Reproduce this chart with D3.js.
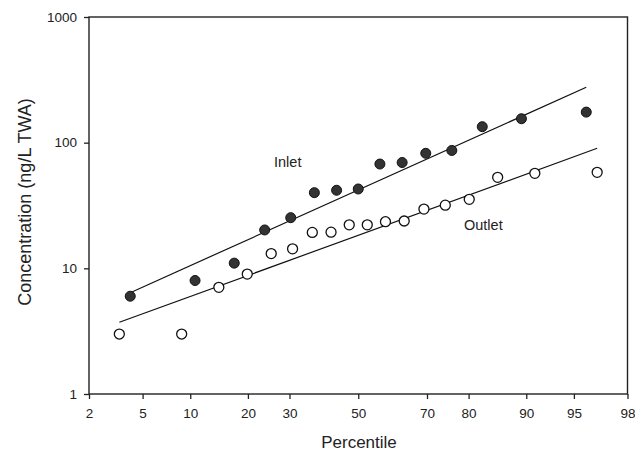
<!DOCTYPE html>
<html>
<head>
<meta charset="utf-8">
<script src="https://cdn.jsdelivr.net/npm/d3@7"></script>
<style>
  html, body { margin: 0; padding: 0; background: #fff; }
  svg { display: block; font-family: "Liberation Sans", Arial, sans-serif; }
  .tick text { fill: #222; }
</style>
</head>
<body>
<svg id="chart" width="635" height="456"></svg>
<script>
// Percentile ticks on the normal-probability axis and decade ticks on the log axis
const percentTicks = [2, 5, 10, 20, 30, 50, 70, 80, 90, 95, 98];
const concTicks = [1, 10, 100, 1000];

// Inlet samples: plotting percentile and concentration (ng/L TWA)
const inletPct  = [4.10, 10.66, 17.21, 23.77, 30.33, 36.89, 43.44, 50.00, 56.56, 63.11, 69.67, 76.23, 82.79, 89.34, 95.90];
const inletConc = [6.0, 8.0, 11.0, 20.2, 25.3, 40.0, 41.8, 42.8, 67.6, 69.5, 82.3, 86.7, 134, 155, 175];

// Outlet samples
const outletPct  = [3.42, 8.90, 14.38, 19.86, 25.34, 30.82, 36.30, 41.78, 47.26, 52.74, 58.22, 63.70, 69.18, 74.66, 80.14, 85.62, 91.10, 96.58];
const outletConc = [3.0, 3.0, 7.06, 9.0, 13.1, 14.3, 19.3, 19.4, 22.2, 22.2, 23.5, 23.8, 29.6, 31.8, 35.4, 53.0, 57.0, 58.1];

// Fitted log-normal lines (end points)
const inletFitPct  = [4.10, 95.90];
const inletFitConc = [6.4, 276];
const outletFitPct  = [3.42, 96.58];
const outletFitConc = [3.72, 90.2];

// Inverse standard normal CDF (Acklam's rational approximation)
function probit(p) {
  const a = [-3.969683028665376e+01, 2.209460984245205e+02, -2.759285104469687e+02, 1.383577518672690e+02, -3.066479806614716e+01, 2.506628277459239e+00];
  const b = [-5.447609879822406e+01, 1.615858368580409e+02, -1.556989798598866e+02, 6.680131188771972e+01, -1.328068155288572e+01];
  const c = [-7.784894002430293e-03, -3.223964580411365e-01, -2.400758277161838e+00, -2.549671010050320e+00, 4.374664141464968e+00, 2.938163982698783e+00];
  const d = [7.784695709041462e-03, 3.224671290700398e-01, 2.445134137142996e+00, 3.754408661907416e+00];
  const pl = 0.02425, ph = 1 - pl;
  let q, r;
  if (p < pl) {
    q = Math.sqrt(-2 * Math.log(p));
    return (((((c[0]*q+c[1])*q+c[2])*q+c[3])*q+c[4])*q+c[5]) / ((((d[0]*q+d[1])*q+d[2])*q+d[3])*q+1);
  } else if (p <= ph) {
    q = p - 0.5; r = q * q;
    return (((((a[0]*r+a[1])*r+a[2])*r+a[3])*r+a[4])*r+a[5])*q / (((((b[0]*r+b[1])*r+b[2])*r+b[3])*r+b[4])*r+1);
  } else {
    q = Math.sqrt(-2 * Math.log(1 - p));
    return -(((((c[0]*q+c[1])*q+c[2])*q+c[3])*q+c[4])*q+c[5]) / ((((d[0]*q+d[1])*q+d[2])*q+d[3])*q+1);
  }
}

const plotLeft = 89, plotRight = 627.5, plotTop = 17, plotBottom = 394;
const svg = d3.select("#chart");

// Probability scale: linear in the normal quantile of the percentile
const zScale = d3.scaleLinear()
  .domain([probit(0.02), probit(0.98)])
  .range([plotLeft, plotRight]);
const x = Object.assign(p => zScale(probit(p / 100)), {
  domain: () => [2, 98],
  range: () => zScale.range(),
  copy: () => x
});

const y = d3.scaleLog().domain([1, 1000]).range([plotBottom, plotTop]);

// Frame
svg.append("rect")
  .attr("x", plotLeft).attr("y", plotTop)
  .attr("width", plotRight - plotLeft).attr("height", plotBottom - plotTop)
  .attr("fill", "none").attr("stroke", "#222").attr("stroke-width", 1.4);

// Axes
const xAxis = svg.append("g")
  .attr("transform", `translate(0,${plotBottom})`)
  .call(d3.axisBottom(x).tickValues(percentTicks).tickFormat(d3.format("d"))
    .tickSize(5).tickPadding(9));
const yAxis = svg.append("g")
  .attr("transform", `translate(${plotLeft},0)`)
  .call(d3.axisLeft(y).tickValues(concTicks).tickFormat(d3.format("d"))
    .tickSize(5).tickPadding(7));

[xAxis, yAxis].forEach(g => {
  g.select(".domain").remove();
  g.selectAll(".tick line").attr("stroke", "#222").attr("stroke-width", 1.3);
  g.selectAll(".tick text").attr("font-size", 13.5).attr("font-family", "Liberation Sans, Arial, sans-serif");
});

// Axis titles
svg.append("text")
  .attr("x", 359).attr("y", 448)
  .attr("text-anchor", "middle")
  .attr("font-size", 17).attr("fill", "#222")
  .text("Percentile");
svg.append("text")
  .attr("transform", "translate(31,202) rotate(-90)")
  .attr("text-anchor", "middle")
  .attr("font-size", 18).attr("fill", "#222")
  .text("Concentration (ng/L TWA)");

// Fitted lines
const line = d3.line().x(d => x(d[0])).y(d => y(d[1]));
svg.append("path")
  .datum(d3.zip(inletFitPct, inletFitConc))
  .attr("d", line).attr("fill", "none").attr("stroke", "#111").attr("stroke-width", 1.2);
svg.append("path")
  .datum(d3.zip(outletFitPct, outletFitConc))
  .attr("d", line).attr("fill", "none").attr("stroke", "#111").attr("stroke-width", 1.2);

// Sample points
svg.append("g").selectAll("circle")
  .data(d3.zip(outletPct, outletConc))
  .join("circle")
  .attr("cx", d => x(d[0])).attr("cy", d => y(d[1])).attr("r", 5)
  .attr("fill", "#fff").attr("stroke", "#111").attr("stroke-width", 1.3);
svg.append("g").selectAll("circle")
  .data(d3.zip(inletPct, inletConc))
  .join("circle")
  .attr("cx", d => x(d[0])).attr("cy", d => y(d[1])).attr("r", 5)
  .attr("fill", "#333").attr("stroke", "#111").attr("stroke-width", 1);

// Series labels
svg.append("text")
  .attr("x", 274).attr("y", 167)
  .attr("font-size", 14.5).attr("fill", "#222")
  .text("Inlet");
svg.append("text")
  .attr("x", 464).attr("y", 230)
  .attr("font-size", 14.5).attr("fill", "#222")
  .text("Outlet");
</script>
</body>
</html>
